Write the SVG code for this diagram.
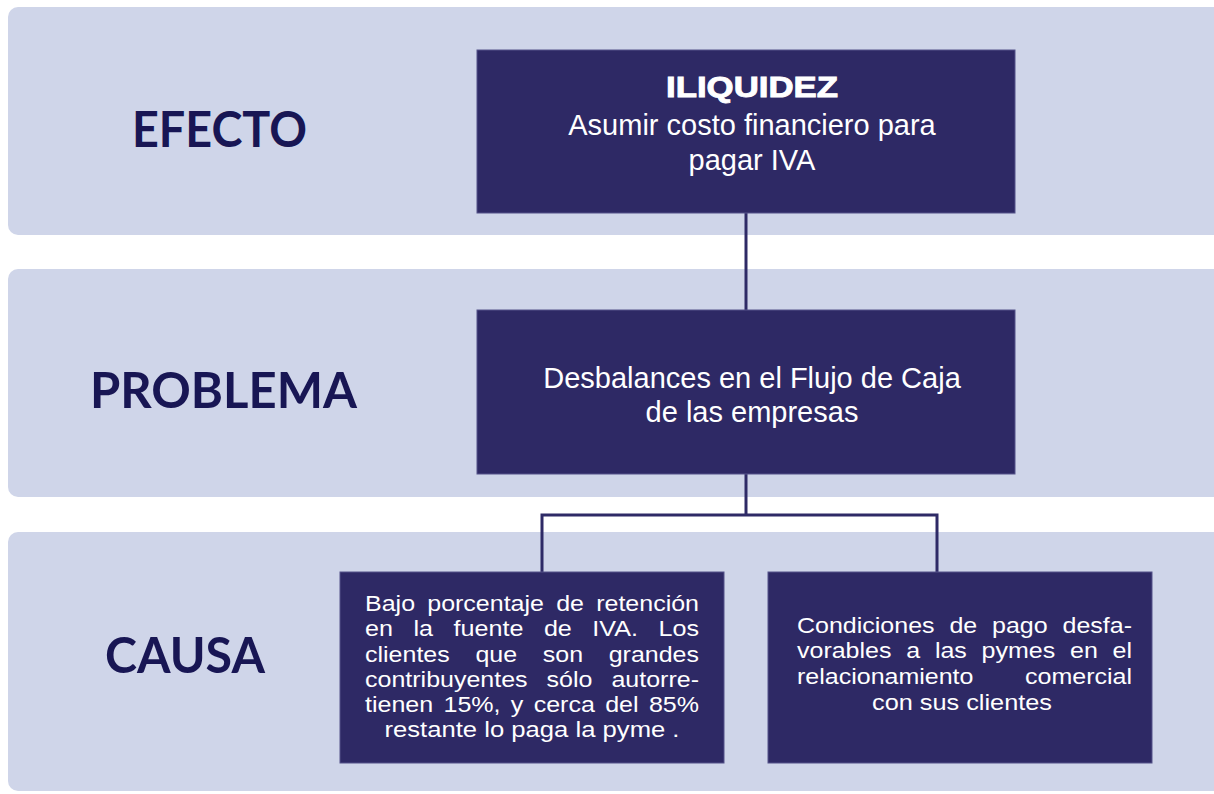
<svg xmlns="http://www.w3.org/2000/svg" width="1214" height="794" viewBox="0 0 1214 794">
<style>
.band{fill:#cfd5e9}
.box{fill:#2e2965;stroke:#55538a;stroke-width:1}
.lbl{font-family:Lato,"Open Sans",sans-serif;font-weight:bold;font-size:49px;fill:#181654}
.t{font-family:"Liberation Sans",Arial,sans-serif;fill:#ffffff}
.big{font-size:29px}
.sm{font-size:22.4px}
.conn{fill:none;stroke:#2e2a66;stroke-width:3}
</style>
<rect width="1214" height="794" fill="#ffffff"/>
<g id="bands">
<rect class="band" x="8" y="7" width="1226" height="228" rx="10"/>
<rect class="band" x="8" y="269" width="1226" height="228" rx="10"/>
<rect class="band" x="8" y="532" width="1226" height="259" rx="10"/>
</g>
<g id="labels">
<text class="lbl" x="132" y="147" textLength="175" lengthAdjust="spacingAndGlyphs">EFECTO</text>
<text class="lbl" x="90" y="408" textLength="267" lengthAdjust="spacingAndGlyphs">PROBLEMA</text>
<text class="lbl" x="105" y="673" textLength="160" lengthAdjust="spacingAndGlyphs">CAUSA</text>
</g>
<g id="connectors">
<line class="conn" x1="746" y1="213" x2="746" y2="310"/>
<polyline class="conn" points="746,474 746,515"/>
<polyline class="conn" points="542,572 542,515 937,515 937,572"/>
</g>
<g id="efecto">
<rect class="box" x="477" y="50" width="538" height="163"/>
<text class="t big" x="666" y="97" font-weight="bold" stroke="#ffffff" stroke-width="0.9" textLength="172" lengthAdjust="spacingAndGlyphs">ILIQUIDEZ</text>
<text class="t big" x="752" y="135" text-anchor="middle">Asumir costo financiero para</text>
<text class="t big" x="752" y="170" text-anchor="middle">pagar IVA</text>
</g>
<g id="problema">
<rect class="box" x="477" y="310" width="538" height="164"/>
<text class="t big" x="752" y="388" text-anchor="middle">Desbalances en el Flujo de Caja</text>
<text class="t big" x="752" y="422" text-anchor="middle">de las empresas</text>
</g>
<g id="causa1">
<rect class="box" x="340" y="572" width="384" height="191"/>
<text class="t sm" x="365" y="611" word-spacing="4.7" textLength="334" lengthAdjust="spacingAndGlyphs">Bajo porcentaje de retención</text>
<text class="t sm" x="365" y="636" word-spacing="12" textLength="334" lengthAdjust="spacingAndGlyphs">en la fuente de IVA. Los</text>
<text class="t sm" x="365" y="662" word-spacing="16.8" textLength="334" lengthAdjust="spacingAndGlyphs">clientes que son grandes</text>
<text class="t sm" x="365" y="687" word-spacing="10.8" textLength="334" lengthAdjust="spacingAndGlyphs">contribuyentes sólo autorre-</text>
<text class="t sm" x="365" y="712" word-spacing="3" textLength="334" lengthAdjust="spacingAndGlyphs">tienen 15%, y cerca del 85%</text>
<text class="t sm" x="532" y="737" text-anchor="middle" textLength="295" lengthAdjust="spacingAndGlyphs">restante lo paga la pyme .</text>
</g>
<g id="causa2">
<rect class="box" x="768" y="572" width="384" height="191"/>
<text class="t sm" x="797" y="633" word-spacing="7.1" textLength="335" lengthAdjust="spacingAndGlyphs">Condiciones de pago desfa-</text>
<text class="t sm" x="797" y="658" word-spacing="7" textLength="335" lengthAdjust="spacingAndGlyphs">vorables a las pymes en el</text>
<text class="t sm" x="797" y="684" word-spacing="40" textLength="335" lengthAdjust="spacingAndGlyphs">relacionamiento comercial</text>
<text class="t sm" x="962" y="710" text-anchor="middle" textLength="180" lengthAdjust="spacingAndGlyphs">con sus clientes</text>
</g>
</svg>
